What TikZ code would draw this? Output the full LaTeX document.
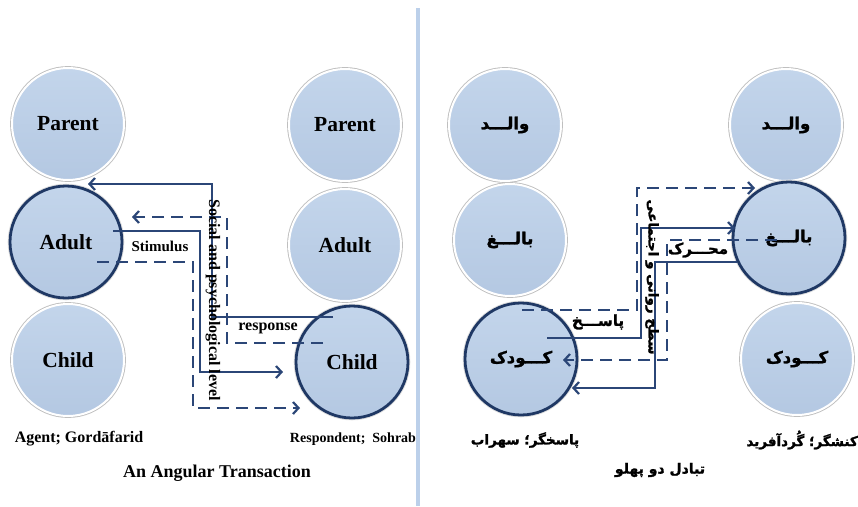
\documentclass[tikz,border=0pt]{standalone}
\usepackage{fontspec}
\setmainfont{Liberation Serif}
\newfontfamily\fa[Script=Arabic,FakeBold=1.6]{DejaVu Sans}
\TeXXeTstate=1
\usetikzlibrary{arrows.meta}
\definecolor{circA}{HTML}{C3D5EB}
\definecolor{circB}{HTML}{B4C8E2}
\definecolor{navy}{HTML}{1F3864}
\definecolor{conn}{HTML}{2B4677}
\definecolor{divider}{HTML}{BCD0EA}
\begin{document}
\begin{tikzpicture}[x=1pt,y=-1pt,
  ego/.style={circle, minimum size=112pt, inner sep=0pt, top color=circA, bottom color=circB,
    draw=white, line width=2pt, preaction={draw=black!25, line width=3.8pt}},
  egoact/.style={ego, draw=navy, line width=2.8pt, preaction={draw=black!12, line width=4.6pt}},
  en/.style={font=\bfseries\fontsize{21.5}{24}\selectfont},
  fa/.style={font=\fa\bfseries\fontsize{16.5}{19}\selectfont},
  conn/.style={draw=conn, line width=2.2pt},
  dashline/.style={conn, dash pattern=on 12pt off 7pt},
  arr/.style={-{Straight Barb[length=5.5pt,width=12pt]}},
  lbl/.style={font=\bfseries\fontsize{15}{18}\selectfont, inner sep=1pt}
]
\useasboundingbox (0,0) rectangle (858,506);
\fill[white] (0,0) rectangle (858,506);
% divider
\draw[divider, line width=4pt] (418,8) -- (418,506);

% ---------- left panel ----------
\node[ego, en]    (LP1) at (68,124)  {Parent};
\node[egoact, en] (LA1) at (66,242)  {Adult};
\node[ego, en]    (LC1) at (68,360)  {Child};
\node[ego, en]    (LP2) at (345,125) {Parent};
\node[ego, en]    (LA2) at (345,245) {Adult};
\node[egoact, en] (LC2) at (352,362) {Child};

\coordinate (ls1) at (113,231); \coordinate (lv1) at (200,372); \coordinate (le1) at (283,372);
\coordinate (ls2) at (333,317); \coordinate (lv2) at (212,184); \coordinate (le2) at (88,184);
\coordinate (ls3) at (97,262);  \coordinate (lv3) at (193,408); \coordinate (le3) at (300,408);
\coordinate (ls4) at (323,343); \coordinate (lv4) at (227,217); \coordinate (le4) at (132,217);

\draw[conn, arr] (ls1) -| (lv1) -- (le1);
\draw[conn, arr] (ls2) -| (lv2) -- (le2);
\draw[dashline, arr] (ls3) -| (lv3) -- (le3);
\draw[dashline, arr] (ls4) -| (lv4) -- (le4);

\node[lbl] (lstim) at (160,246) {Stimulus};
\node[lbl, font=\bfseries\fontsize{16}{18}\selectfont] (lresp) at (268,328) {response};
\node[lbl, rotate=-90, font=\bfseries\fontsize{16}{18}\selectfont] (llevel) at (213,300) {Social and psychological level};

\node[font=\bfseries\fontsize{16}{18}\selectfont] (lagent) at (79,439) {Agent; Gordāfarid};
\node[font=\bfseries\fontsize{14}{16}\selectfont] (lresp2) at (353,439) {Respondent;\ \ Sohrab};
\node[font=\bfseries\fontsize{18}{20}\selectfont] (ltitle) at (217,473) {An Angular Transaction};

% ---------- right panel ----------
\node[ego, fa]    (RP1) at (505,125) {\beginR والـــد\endR};
\node[ego, fa]    (RA1) at (510,240) {\beginR بالـــغ\endR};
\node[egoact, fa] (RC1) at (521,359) {\beginR کـــودک\endR};
\node[ego, fa]    (RP2) at (786,125) {\beginR والـــد\endR};
\node[egoact, fa] (RA2) at (789,238) {\beginR بالـــغ\endR};
\node[ego, fa]    (RC2) at (797,359) {\beginR کـــودک\endR};

\coordinate (rs1) at (522,310); \coordinate (rv1) at (637,188); \coordinate (re1) at (755,188);
\coordinate (rs2) at (547,338); \coordinate (rv2) at (641,228); \coordinate (re2) at (735,228);
\coordinate (rs3) at (777,240); \coordinate (rv3) at (667,360); \coordinate (re3) at (563,360);
\coordinate (rs4) at (737,262); \coordinate (rv4) at (655,388); \coordinate (re4) at (572,388);

\draw[dashline, arr] (rs1) -| (rv1) -- (re1);
\draw[conn, arr] (rs2) -| (rv2) -- (re2);
\draw[dashline, arr] (rs3) -| (rv3) -- (re3);
\draw[conn, arr] (rs4) -| (rv4) -- (re4);

\node[fa, inner sep=1pt, font=\fa\bfseries\fontsize{15}{18}\selectfont] (rstim) at (698,250) {\beginR محـــرک\endR};
\node[fa, inner sep=1pt, font=\fa\bfseries\fontsize{15}{18}\selectfont] (rresp) at (598,322) {\beginR پاســـخ\endR};
\node[fa, inner sep=1pt, rotate=-90, font=\fa\bfseries\fontsize{13.5}{15}\selectfont] (rlevel) at (652,277) {\beginR سطح روانی و اجتماعی\endR};

\node[fa, font=\fa\bfseries\fontsize{13.5}{15}\selectfont] (ragent) at (525,440) {\beginR پاسخگر؛ سهراب\endR};
\node[fa, font=\fa\bfseries\fontsize{13.5}{15}\selectfont, anchor=east, inner sep=0pt] (rresp2) at (858,440) {\beginR کنشگر؛ گُردآفرید\endR};
\node[fa, font=\fa\bfseries\fontsize{14}{16}\selectfont] (rtitle) at (660,470) {\beginR تبادل دو پهلو\endR};
\end{tikzpicture}
\end{document}
